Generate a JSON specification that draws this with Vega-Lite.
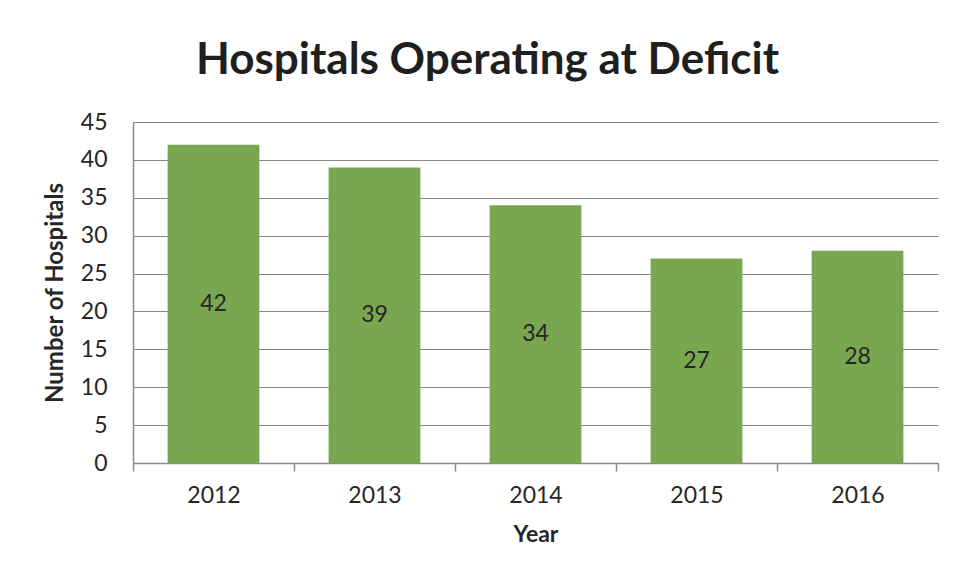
{
  "$schema": "https://vega.github.io/schema/vega-lite/v6.json",
  "autosize": {"type": "none"},
  "width": 805,
  "height": 341,
  "padding": {"left": 133, "top": 122, "right": 18, "bottom": 117},
  "background": "white",
  "title": {
    "text": "Hospitals Operating at Deficit",
    "font": "Lato",
    "fontSize": 44,
    "fontWeight": "bold",
    "color": "#1f1f1f",
    "anchor": "middle",
    "frame": "group",
    "dx": -48,
    "offset": 28
  },
  "data": {
    "values": [
      {"Year": "2012", "Hospitals": 42},
      {"Year": "2013", "Hospitals": 39},
      {"Year": "2014", "Hospitals": 34},
      {"Year": "2015", "Hospitals": 27},
      {"Year": "2016", "Hospitals": 28}
    ]
  },
  "config": {
    "view": {"stroke": null},
    "font": "Lato",
    "axis": {
      "labelFont": "Lato",
      "labelFontSize": 23,
      "labelColor": "#262626",
      "titleFont": "Lato",
      "titleFontSize": 23,
      "titleFontWeight": "bold",
      "titleColor": "#262626",
      "domainColor": "#8a8a8a",
      "domainWidth": 1.5,
      "tickColor": "#8a8a8a",
      "gridColor": "#8a8a8a",
      "gridWidth": 1
    }
  },
  "encoding": {
    "x": {
      "field": "Year",
      "type": "nominal",
      "sort": null,
      "scale": {"paddingInner": 0, "paddingOuter": 0},
      "axis": {
        "title": "Year",
        "labelAngle": 0,
        "tickBand": "extent",
        "ticks": true,
        "tickSize": 8,
        "tickWidth": 1.5,
        "labelPadding": 13,
        "titlePadding": 16,
        "grid": false
      }
    }
  },
  "layer": [
    {
      "mark": {"type": "bar", "color": "#79a74f", "width": {"band": 0.57}},
      "encoding": {
        "y": {
          "field": "Hospitals",
          "type": "quantitative",
          "scale": {"domain": [0, 45], "nice": false},
          "axis": {
            "title": "Number of Hospitals",
            "titleFontSize": 24,
            "values": [0, 5, 10, 15, 20, 25, 30, 35, 40, 45],
            "labelOverlap": false,
            "grid": true,
            "ticks": false,
            "labelPadding": 26,
            "titlePadding": 13
          }
        }
      }
    },
    {
      "transform": [{"calculate": "datum.Hospitals / 2", "as": "mid"}],
      "mark": {"type": "text", "font": "Lato", "fontSize": 23, "color": "#262626", "baseline": "middle"},
      "encoding": {
        "y": {
          "field": "mid",
          "type": "quantitative",
          "scale": {"domain": [0, 45], "nice": false},
          "axis": {
            "title": "Number of Hospitals",
            "titleFontSize": 24,
            "values": [0, 5, 10, 15, 20, 25, 30, 35, 40, 45],
            "labelOverlap": false,
            "grid": true,
            "ticks": false,
            "labelPadding": 26,
            "titlePadding": 13
          }
        },
        "text": {"field": "Hospitals", "type": "quantitative"}
      }
    }
  ]
}
